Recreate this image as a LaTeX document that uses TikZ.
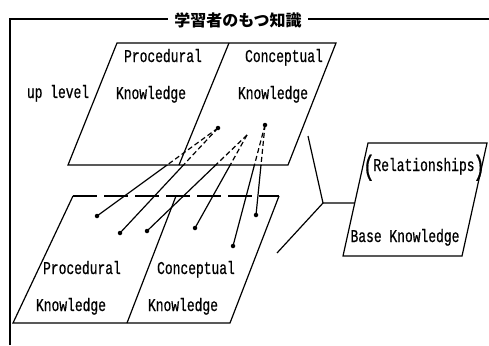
\documentclass[tikz,border=0pt]{standalone}
\usepackage{fontspec}
\usetikzlibrary{calc}
\newfontfamily\cjk{Noto Sans CJK JP}
\newfontfamily\mono{Liberation Mono}[FakeStretch=0.72,FakeBold=0.6]
\begin{document}
\begin{tikzpicture}[x=1pt,y=-1pt,line width=1.2pt,
  lbl/.style={font=\mono\fontsize{18}{18}\selectfont,inner sep=0pt,anchor=base},
  paren/.style={font=\mono\fontsize{28}{28}\selectfont,inner sep=0pt,anchor=base},
  dot/.style={circle,fill=black,inner sep=0pt,minimum size=4.5pt},
  hid/.style={dash pattern=on 5pt off 3pt},
  topdash/.style={dash pattern=on 24pt off 7pt}]
\useasboundingbox (0,0) rectangle (489,345);
% frame with title
\node[font=\cjk\bfseries\fontsize{16}{16}\selectfont,inner sep=0pt] (title) at (238,20) {学習者のもつ知識};
\coordinate (fB) at (10,345);
\coordinate (fL) at (10,19);
\coordinate (fR) at (489,19);
\draw (fB) -- (fL) -- ([xshift=-6pt]title.west |- fL);
\draw ([xshift=6pt]title.east |- fR) -- (fR);
% upper plane
\coordinate (u1) at (117,43); \coordinate (u2) at (336,43);
\coordinate (u3) at (288,165); \coordinate (u4) at (68,165);
\coordinate (ud1) at (229,43); \coordinate (ud2) at (179,165);
\draw (u1) -- (u2) -- (u3) -- (u4) -- cycle;
\draw (ud1) -- (ud2);
\node[lbl] (up1) at (163,62) {Procedural};
\node[lbl] (up2) at (151,99) {Knowledge};
\node[lbl] (uc1) at (284,62) {Conceptual};
\node[lbl] (uc2) at (273,99) {Knowledge};
\node[lbl] (uplev) at (58,98) {up level};
% lower plane
\coordinate (l1) at (73,196); \coordinate (l2) at (279,196);
\coordinate (l3) at (230,323); \coordinate (l4) at (13,323);
\coordinate (ld1) at (176,196); \coordinate (ld2) at (127,323);
\draw[topdash] (l1) -- (l2);
\draw (l2) -- (l3) -- (l4) -- (l1);
\draw (ld1) -- (ld2);
\node[lbl] (lp1) at (82,274) {Procedural};
\node[lbl] (lp2) at (71,311) {Knowledge};
\node[lbl] (lc1) at (196,274) {Conceptual};
\node[lbl] (lc2) at (183,311) {Knowledge};
% links
\node[dot] (A) at (218,128) {};
\coordinate (B) at (247,135);
\node[dot] (C) at (265,125) {};
\node[dot] (d1) at (97,216) {};
\node[dot] (d2) at (120,233) {};
\node[dot] (d3) at (147,231) {};
\node[dot] (d4) at (195,228) {};
\node[dot] (d5) at (233,246) {};
\node[dot] (d6) at (256,215) {};
\begin{scope}
\clip (0,0) rectangle (489,165);
\draw[hid] (A.center) -- (d1.center);
\draw[hid] (A.center) -- (d2.center);
\draw[hid] (B) -- (d3.center);
\draw[hid] (B) -- (d4.center);
\draw[hid] (C.center) -- (d5.center);
\draw[hid] (C.center) -- (d6.center);
\end{scope}
\begin{scope}
\clip (0,165) rectangle (489,345);
\draw (A.center) -- (d1.center);
\draw (A.center) -- (d2.center);
\draw (B) -- (d3.center);
\draw (B) -- (d4.center);
\draw (C.center) -- (d5.center);
\draw (C.center) -- (d6.center);
\end{scope}
% base knowledge plane
\coordinate (r1) at (368,143); \coordinate (r2) at (487,143);
\coordinate (r3) at (462,256); \coordinate (r4) at (343,256);
\draw (r1) -- (r2) -- (r3) -- (r4) -- cycle;
\node[lbl] (rel) at (424,171) {Relationships};
\node[paren] (lpar) at (369,175) {(};
\node[paren] (rpar) at (479,175) {)};
\node[lbl] (base) at (405,242) {Base Knowledge};
% bracket
\coordinate (bt) at (308,136);
\coordinate (bk) at (323,203);
\coordinate (bb) at (277,253);
\coordinate (rc) at ($(r1)!0.531!(r4)$);
\draw (bt) -- (bk) -- (bb);
\draw (bk) -- (rc);
\end{tikzpicture}
\end{document}
